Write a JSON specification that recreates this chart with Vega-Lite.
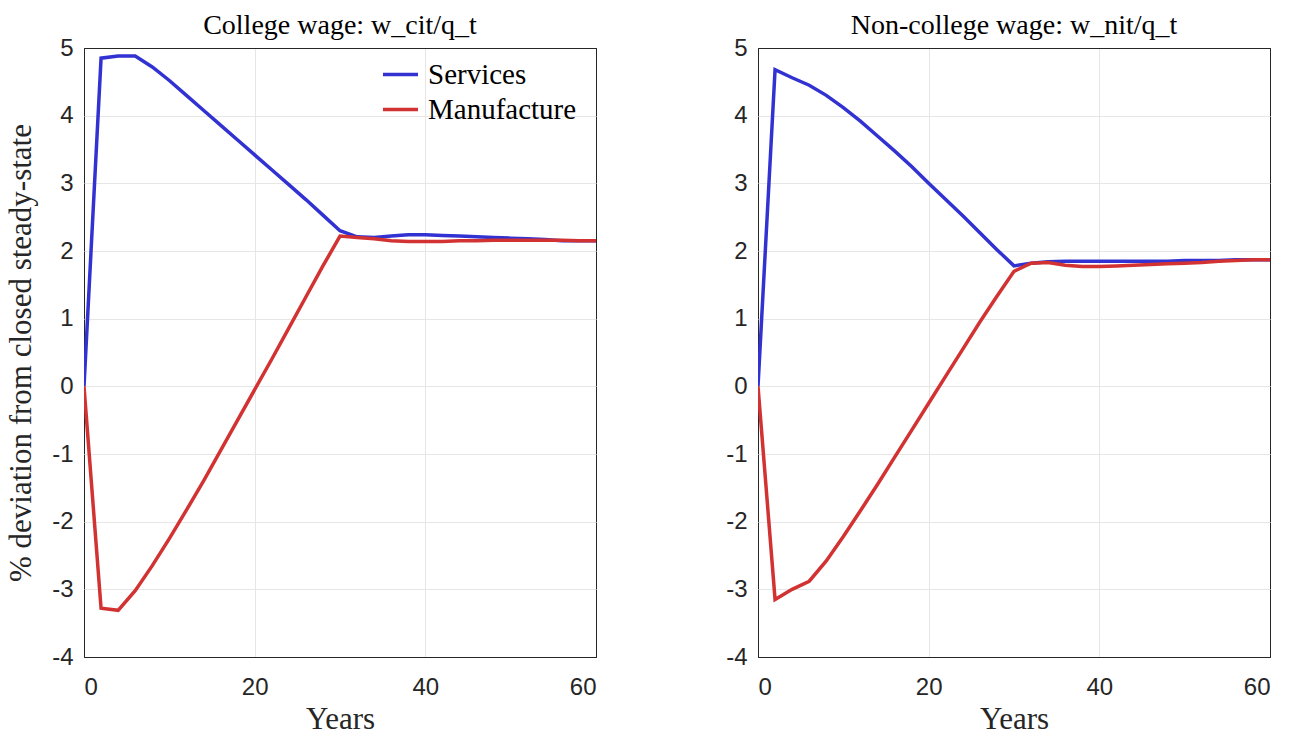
{
  "$schema": "https://vega.github.io/schema/vega-lite/v6.json",
  "background": "white",
  "padding": {"left": 5, "top": 11, "right": 5, "bottom": 0},
  "spacing": 128,
  "config": {
    "view": {"stroke": "#262626", "strokeWidth": 1},
    "axis": {
      "labelFont": "Liberation Sans", "labelFontSize": 24, "labelColor": "#262626",
      "titleFont": "Liberation Serif", "titleFontSize": 31, "titleFontWeight": "normal", "titleColor": "#262626",
      "gridWidth": 1, "domain": false, "ticks": false,
      "labelExpr": "datum.value < 0 ? '-' + abs(datum.value) : '' + datum.value"
    },
    "axisX": {"labelPadding": 18, "titlePadding": 5,
      "gridColor": {"condition": {"test": "datum.value == 0 || datum.value == 60", "value": "#262626"}, "value": "#e6e6e6"}},
    "axisY": {"labelPadding": 11, "titlePadding": 14,
      "gridColor": {"condition": {"test": "datum.value == -4 || datum.value == 5", "value": "#262626"}, "value": "#e6e6e6"}},
    "title": {"font": "Liberation Serif", "fontSize": 28, "fontWeight": "normal", "color": "#000000", "offset": -4},
    "legend": {"labelFont": "Liberation Serif", "labelFontSize": 29, "labelColor": "#000000", "symbolType": "stroke", "symbolSize": 1225, "symbolStrokeWidth": 3.5, "labelOffset": 8}
  },
  "datasets": {
    "college": [
      {"t": 0, "sector": "Services", "v": 0}, {"t": 2, "sector": "Services", "v": 4.85}, {"t": 4, "sector": "Services", "v": 4.88},
      {"t": 6, "sector": "Services", "v": 4.88}, {"t": 8, "sector": "Services", "v": 4.72}, {"t": 10, "sector": "Services", "v": 4.52},
      {"t": 12, "sector": "Services", "v": 4.3}, {"t": 14, "sector": "Services", "v": 4.08}, {"t": 16, "sector": "Services", "v": 3.86},
      {"t": 18, "sector": "Services", "v": 3.64}, {"t": 20, "sector": "Services", "v": 3.42}, {"t": 22, "sector": "Services", "v": 3.2},
      {"t": 24, "sector": "Services", "v": 2.98}, {"t": 26, "sector": "Services", "v": 2.76}, {"t": 28, "sector": "Services", "v": 2.53},
      {"t": 30, "sector": "Services", "v": 2.3}, {"t": 32, "sector": "Services", "v": 2.21}, {"t": 34, "sector": "Services", "v": 2.2},
      {"t": 36, "sector": "Services", "v": 2.22}, {"t": 38, "sector": "Services", "v": 2.24}, {"t": 40, "sector": "Services", "v": 2.24},
      {"t": 42, "sector": "Services", "v": 2.23}, {"t": 44, "sector": "Services", "v": 2.22}, {"t": 46, "sector": "Services", "v": 2.21},
      {"t": 48, "sector": "Services", "v": 2.2}, {"t": 50, "sector": "Services", "v": 2.19}, {"t": 52, "sector": "Services", "v": 2.18},
      {"t": 54, "sector": "Services", "v": 2.17}, {"t": 56, "sector": "Services", "v": 2.15}, {"t": 58, "sector": "Services", "v": 2.15},
      {"t": 60, "sector": "Services", "v": 2.15},
      {"t": 0, "sector": "Manufacture", "v": 0}, {"t": 2, "sector": "Manufacture", "v": -3.28}, {"t": 4, "sector": "Manufacture", "v": -3.31},
      {"t": 6, "sector": "Manufacture", "v": -3.02}, {"t": 8, "sector": "Manufacture", "v": -2.65}, {"t": 10, "sector": "Manufacture", "v": -2.25},
      {"t": 12, "sector": "Manufacture", "v": -1.83}, {"t": 14, "sector": "Manufacture", "v": -1.4}, {"t": 16, "sector": "Manufacture", "v": -0.95},
      {"t": 18, "sector": "Manufacture", "v": -0.5}, {"t": 20, "sector": "Manufacture", "v": -0.05}, {"t": 22, "sector": "Manufacture", "v": 0.4},
      {"t": 24, "sector": "Manufacture", "v": 0.86}, {"t": 26, "sector": "Manufacture", "v": 1.32}, {"t": 28, "sector": "Manufacture", "v": 1.78},
      {"t": 30, "sector": "Manufacture", "v": 2.22}, {"t": 32, "sector": "Manufacture", "v": 2.2}, {"t": 34, "sector": "Manufacture", "v": 2.18},
      {"t": 36, "sector": "Manufacture", "v": 2.15}, {"t": 38, "sector": "Manufacture", "v": 2.14}, {"t": 40, "sector": "Manufacture", "v": 2.14},
      {"t": 42, "sector": "Manufacture", "v": 2.14}, {"t": 44, "sector": "Manufacture", "v": 2.15}, {"t": 46, "sector": "Manufacture", "v": 2.15},
      {"t": 48, "sector": "Manufacture", "v": 2.16}, {"t": 50, "sector": "Manufacture", "v": 2.16}, {"t": 52, "sector": "Manufacture", "v": 2.16},
      {"t": 54, "sector": "Manufacture", "v": 2.16}, {"t": 56, "sector": "Manufacture", "v": 2.16}, {"t": 58, "sector": "Manufacture", "v": 2.15},
      {"t": 60, "sector": "Manufacture", "v": 2.15}
    ],
    "noncollege": [
      {"t": 0, "sector": "Services", "v": 0}, {"t": 2, "sector": "Services", "v": 4.68}, {"t": 4, "sector": "Services", "v": 4.56},
      {"t": 6, "sector": "Services", "v": 4.45}, {"t": 8, "sector": "Services", "v": 4.3}, {"t": 10, "sector": "Services", "v": 4.12},
      {"t": 12, "sector": "Services", "v": 3.92}, {"t": 14, "sector": "Services", "v": 3.7}, {"t": 16, "sector": "Services", "v": 3.48},
      {"t": 18, "sector": "Services", "v": 3.25}, {"t": 20, "sector": "Services", "v": 3.0}, {"t": 22, "sector": "Services", "v": 2.76},
      {"t": 24, "sector": "Services", "v": 2.52}, {"t": 26, "sector": "Services", "v": 2.27}, {"t": 28, "sector": "Services", "v": 2.02},
      {"t": 30, "sector": "Services", "v": 1.78}, {"t": 32, "sector": "Services", "v": 1.82}, {"t": 34, "sector": "Services", "v": 1.84},
      {"t": 36, "sector": "Services", "v": 1.85}, {"t": 38, "sector": "Services", "v": 1.85}, {"t": 40, "sector": "Services", "v": 1.85},
      {"t": 42, "sector": "Services", "v": 1.85}, {"t": 44, "sector": "Services", "v": 1.85}, {"t": 46, "sector": "Services", "v": 1.85},
      {"t": 48, "sector": "Services", "v": 1.85}, {"t": 50, "sector": "Services", "v": 1.86}, {"t": 52, "sector": "Services", "v": 1.86},
      {"t": 54, "sector": "Services", "v": 1.86}, {"t": 56, "sector": "Services", "v": 1.87}, {"t": 58, "sector": "Services", "v": 1.87},
      {"t": 60, "sector": "Services", "v": 1.87},
      {"t": 0, "sector": "Manufacture", "v": 0}, {"t": 2, "sector": "Manufacture", "v": -3.15}, {"t": 4, "sector": "Manufacture", "v": -3.0},
      {"t": 6, "sector": "Manufacture", "v": -2.88}, {"t": 8, "sector": "Manufacture", "v": -2.58}, {"t": 10, "sector": "Manufacture", "v": -2.22},
      {"t": 12, "sector": "Manufacture", "v": -1.84}, {"t": 14, "sector": "Manufacture", "v": -1.45}, {"t": 16, "sector": "Manufacture", "v": -1.05},
      {"t": 18, "sector": "Manufacture", "v": -0.65}, {"t": 20, "sector": "Manufacture", "v": -0.25}, {"t": 22, "sector": "Manufacture", "v": 0.15},
      {"t": 24, "sector": "Manufacture", "v": 0.55}, {"t": 26, "sector": "Manufacture", "v": 0.95}, {"t": 28, "sector": "Manufacture", "v": 1.33},
      {"t": 30, "sector": "Manufacture", "v": 1.7}, {"t": 32, "sector": "Manufacture", "v": 1.82}, {"t": 34, "sector": "Manufacture", "v": 1.83},
      {"t": 36, "sector": "Manufacture", "v": 1.79}, {"t": 38, "sector": "Manufacture", "v": 1.77}, {"t": 40, "sector": "Manufacture", "v": 1.77},
      {"t": 42, "sector": "Manufacture", "v": 1.78}, {"t": 44, "sector": "Manufacture", "v": 1.79}, {"t": 46, "sector": "Manufacture", "v": 1.8},
      {"t": 48, "sector": "Manufacture", "v": 1.81}, {"t": 50, "sector": "Manufacture", "v": 1.82}, {"t": 52, "sector": "Manufacture", "v": 1.83},
      {"t": 54, "sector": "Manufacture", "v": 1.85}, {"t": 56, "sector": "Manufacture", "v": 1.86}, {"t": 58, "sector": "Manufacture", "v": 1.87},
      {"t": 60, "sector": "Manufacture", "v": 1.87}
    ]
  },
  "resolve": {"legend": {"color": "independent"}},
  "hconcat": [
    {
      "width": 512, "height": 609,
      "title": "College wage: w_cit/q_t",
      "data": {"name": "college"},
      "mark": {"type": "line", "strokeWidth": 3.5, "clip": true},
      "encoding": {
        "x": {"field": "t", "type": "quantitative", "scale": {"domain": [0, 60], "nice": false}, "axis": {"values": [0, 20, 40, 60], "title": "Years"}},
        "y": {"field": "v", "type": "quantitative", "scale": {"domain": [-4, 5], "nice": false}, "axis": {"values": [-4, -3, -2, -1, 0, 1, 2, 3, 4, 5], "title": "% deviation from closed steady-state"}},
        "color": {"field": "sector", "type": "nominal", "scale": {"domain": ["Services", "Manufacture"], "range": ["#3232D2", "#D23232"]},
          "legend": {"title": null, "orient": "none", "legendX": 297, "legendY": 7, "rowPadding": 0}}
      }
    },
    {
      "width": 512, "height": 609,
      "title": "Non-college wage: w_nit/q_t",
      "data": {"name": "noncollege"},
      "mark": {"type": "line", "strokeWidth": 3.5, "clip": true},
      "encoding": {
        "x": {"field": "t", "type": "quantitative", "scale": {"domain": [0, 60], "nice": false}, "axis": {"values": [0, 20, 40, 60], "title": "Years"}},
        "y": {"field": "v", "type": "quantitative", "scale": {"domain": [-4, 5], "nice": false}, "axis": {"values": [-4, -3, -2, -1, 0, 1, 2, 3, 4, 5], "title": null}},
        "color": {"field": "sector", "type": "nominal", "scale": {"domain": ["Services", "Manufacture"], "range": ["#3232D2", "#D23232"]}, "legend": null}
      }
    }
  ]
}
